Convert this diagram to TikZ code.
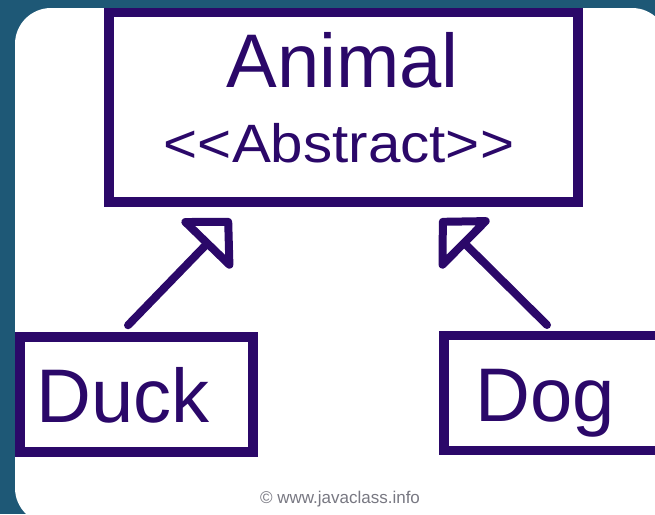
\documentclass[tikz,border=0pt]{standalone}
\usepackage{fontspec}
\setmainfont{Liberation Sans}
\newfontfamily\widesans[FakeStretch=1.08]{Liberation Sans}
\usetikzlibrary{arrows.meta,positioning,calc}

\definecolor{umlink}{RGB}{43,8,105}
\definecolor{slidebg}{RGB}{30,88,118}
\definecolor{creditgray}{RGB}{120,120,130}

\begin{document}
\begin{tikzpicture}[
  x=1pt, y=-1pt,
  classbox/.style={draw=umlink, line width=9.5pt, fill=white, inner sep=0pt,
                   minimum width=233pt, minimum height=115pt},
  bigname/.style={text=umlink, font=\fontsize{76}{80}\selectfont,
                  inner sep=0pt, anchor=base},
  stereo/.style={text=umlink, font=\widesans\fontsize{54}{58}\selectfont,
                 inner sep=0pt, anchor=base},
  inherit/.style={draw=umlink, line width=8pt, line cap=round,
                  -{Triangle[open, round, angle=90:56pt]}},
  credit/.style={text=creditgray, font=\fontsize{17}{20}\selectfont,
                 inner sep=0pt, anchor=base}
]

% Slide background
\clip (0,0) rectangle (655,514);
\fill[slidebg] (0,0) rectangle (655,514);
\fill[white, rounded corners=36pt] (15,8) rectangle (668,524);

% Abstract base class
\node[classbox, minimum width=469pt, minimum height=189.5pt] (animal)
  at (343.5,107.25) {};
\node[bigname] (animalname) at ($(animal.north)+(-1,79.25)$) {Animal};
\node[stereo] (stereotype) at ($(animal.north)+(-4.5,154.25)$)
  {<{}<Abstract>{}>};

% Subclasses
\node[classbox] (duck) at (136.5,394.5) {};
\node[classbox, right=181.5pt of duck, yshift=1.5pt] (dog) {};
\node[bigname] (duckname) at ($(duck.south)+(-13.5,-34.75)$) {Duck};
\node[bigname] (dogname) at ($(dog.south)+(-15,-34.25)$) {Dog};

% Generalization arrows
\draw[inherit] ($(duck.north)+(-8.5,-7)$)
  -- ($(animal.south west)+(126.75,12.25)$);
\draw[inherit] ($(dog.north)+(-13.5,-5.75)$)
  -- ($(animal.south east)+(-142.75,12.25)$);

\node[credit] (source) at (340,503) {\textcopyright\ www.javaclass.info};

\end{tikzpicture}
\end{document}
